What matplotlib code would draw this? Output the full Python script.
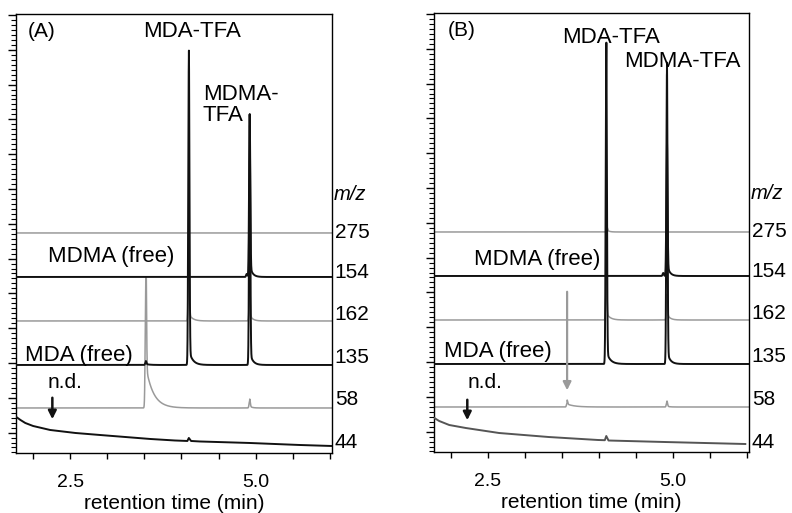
import numpy as np
import matplotlib
matplotlib.use("Agg")
import matplotlib.pyplot as plt
from matplotlib.ticker import FixedLocator, AutoMinorLocator

plt.rcParams['font.family'] = ['Liberation Sans', 'DejaVu Sans']

# ---- chromatogram data ------------------------------------------------------
# selected ions, top to bottom
ions = ["275", "154", "162", "135", "58"]
ion_colors = ["#9a9a9a", "#111111", "#9a9a9a", "#111111", "#9a9a9a"]
trace_offsets = [220, 176, 132, 88, 45]

# peaks per ion: (retention time min, height, tail amplitude, tail decay min)
peaks_A = {
    "275": [],
    "154": [(4.92, 152, 12, 0.035), (4.88, 3, 0, 0.05)],
    "162": [(4.10, 60, 7, 0.05), (4.92, 30, 6, 0.04)],
    "135": [(4.10, 302, 15, 0.05), (4.92, 240, 13, 0.04), (3.52, 3, 1, 0.05)],
    "58":  [(3.52, 130, 42, 0.10), (4.92, 7, 2, 0.03)],
}
peaks_B = {
    "275": [(4.11, 3, 2, 0.03)],
    "154": [(4.92, 124, 12, 0.035), (4.87, 3, 0, 0.05)],
    "162": [(4.10, 40, 7, 0.05), (4.92, 20, 6, 0.04)],
    "135": [(4.10, 311, 13, 0.05), (4.92, 291, 13, 0.04)],
    "58":  [(3.57, 4, 3, 0.10), (4.92, 5, 1, 0.03)],
}
# clip level of the saturated m/z 58 signal (panel A)
clip_A = {"58": 176}

# m/z 44 total-background trace: (time, level)
bg_time_A = [1.774, 1.83, 1.895, 2.0, 2.23, 2.57, 2.90, 3.24, 3.58, 3.91,
             4.08, 4.10, 4.13, 4.25, 4.92, 5.59, 6.02]
bg_level_A = [36, 33, 30, 27, 23, 20, 18, 16, 14, 12.5,
              12, 15, 12, 11.5, 10, 8, 7]
bg_time_B = [1.774, 1.84, 1.976, 2.20, 2.65, 3.32, 3.99, 4.08, 4.10, 4.13,
             4.89, 5.98]
bg_level_B = [34, 31, 27, 24, 19, 15, 12, 11.8, 16, 11.5, 10, 8]

t = np.arange(1.77, 6.03, 0.001)
PEAK_SIGMA = 0.008


def trace(peaks, offset, clip=None):
    y = np.full_like(t, float(offset))
    for t0, h, a, tau in peaks:
        y += h * np.exp(-0.5 * ((t - t0) / PEAK_SIGMA) ** 2)
        after = t >= t0
        y[after] += a * np.exp(-(t[after] - t0) / tau)
    if clip is not None:
        y = np.minimum(y, clip)
    return y


fig = plt.figure(figsize=(7.92, 5.13), dpi=100)
axA = fig.add_axes([0.0202, 0.117, 0.3990, 0.8558])
axB = fig.add_axes([0.5480, 0.1189, 0.3977, 0.8558])

label_y = [220, 180, 138, 95, 53]


def draw_panel(ax, peaks, clips, bg_t, bg_y, bg_color, tag):
    for ion, col, off in zip(ions, ion_colors, trace_offsets):
        lw = 1.1 if col != "#111111" else 1.4
        z = 2 if col != "#111111" else 3
        ax.plot(t, trace(peaks[ion], off, clips.get(ion)), color=col, lw=lw,
                zorder=z, solid_joinstyle='round')
    ax.plot(bg_t, bg_y, color=bg_color, lw=1.4, zorder=3)

    ax.set_xlim(1.77, 6.03)
    ax.set_ylim(0, 439)

    # axes styling
    for s in ax.spines.values():
        s.set_linewidth(1.0)
    ax.xaxis.set_major_locator(FixedLocator(np.arange(2.0, 6.01, 0.5)))
    ax.set_xticklabels(["2.5" if abs(v - 2.5) < 1e-6 else
                        "5.0" if abs(v - 5.0) < 1e-6 else ""
                        for v in np.arange(2.0, 6.01, 0.5)])
    ax.tick_params(axis='x', direction='out', length=4, width=1.0,
                   labelsize=14, pad=11, top=False)
    ax.yaxis.set_major_locator(FixedLocator(np.arange(438, 0, -34.8)))
    ax.yaxis.set_minor_locator(AutoMinorLocator(7))
    ax.tick_params(axis='y', which='major', direction='out', length=5.5,
                   width=1.0, labelleft=False, right=False)
    ax.tick_params(axis='y', which='minor', direction='out', length=3.5,
                   width=0.8, right=False)
    ax.set_xlabel("retention time (min)", fontsize=15, labelpad=2)

    # m/z labels on the right
    ax.annotate("m/z", xy=(1, 258), xycoords=('axes fraction', 'data'),
                xytext=(1, 0), textcoords='offset points', ha='left',
                va='center', fontsize=14.5, style='italic')
    for lab, yy in zip(ions + ["44"], label_y + [10]):
        ax.annotate(lab, xy=(1, yy), xycoords=('axes fraction', 'data'),
                    xytext=(2, 0), textcoords='offset points', ha='left',
                    va='center', fontsize=15)

    ax.text(1.935 if tag == "(A)" else 1.96, 421, tag, fontsize=15,
            ha='left', va='center')


draw_panel(axA, peaks_A, clip_A, bg_time_A, bg_level_A, "#111111", "(A)")
draw_panel(axB, peaks_B, {}, bg_time_B, bg_level_B, "#555555", "(B)")

# compound labels
fs = 16
axA.text(4.15, 421, "MDA-TFA", fontsize=fs, ha='center', va='center')
axA.text(4.29, 348, "MDMA-\nTFA", fontsize=fs, ha='left', va='center',
         linespacing=1.0)
axA.text(2.20, 196, "MDMA (free)", fontsize=fs, ha='left', va='center')
axA.text(1.895, 97, "MDA (free)", fontsize=fs, ha='left', va='center')
axA.text(2.20, 70, "n.d.", fontsize=15, ha='left', va='center')
axA.annotate("", xy=(2.26, 31), xytext=(2.26, 58),
             arrowprops=dict(arrowstyle='-|>', color='#111111', lw=1.8,
                             mutation_scale=12))

axB.text(4.17, 414, "MDA-TFA", fontsize=fs, ha='center', va='center')
axB.text(5.13, 390, "MDMA-TFA", fontsize=fs, ha='center', va='center')
axB.text(2.31, 192, "MDMA (free)", fontsize=fs, ha='left', va='center')
axB.text(1.91, 100, "MDA (free)", fontsize=fs, ha='left', va='center')
axB.text(2.22, 70, "n.d.", fontsize=15, ha='left', va='center')
axB.annotate("", xy=(2.22, 29), xytext=(2.22, 55),
             arrowprops=dict(arrowstyle='-|>', color='#111111', lw=1.8,
                             mutation_scale=12))
axB.annotate("", xy=(3.57, 59), xytext=(3.57, 163),
             arrowprops=dict(arrowstyle='-|>', color='#9a9a9a', lw=1.6,
                             mutation_scale=12))

fig.savefig("out.png", dpi=100)
